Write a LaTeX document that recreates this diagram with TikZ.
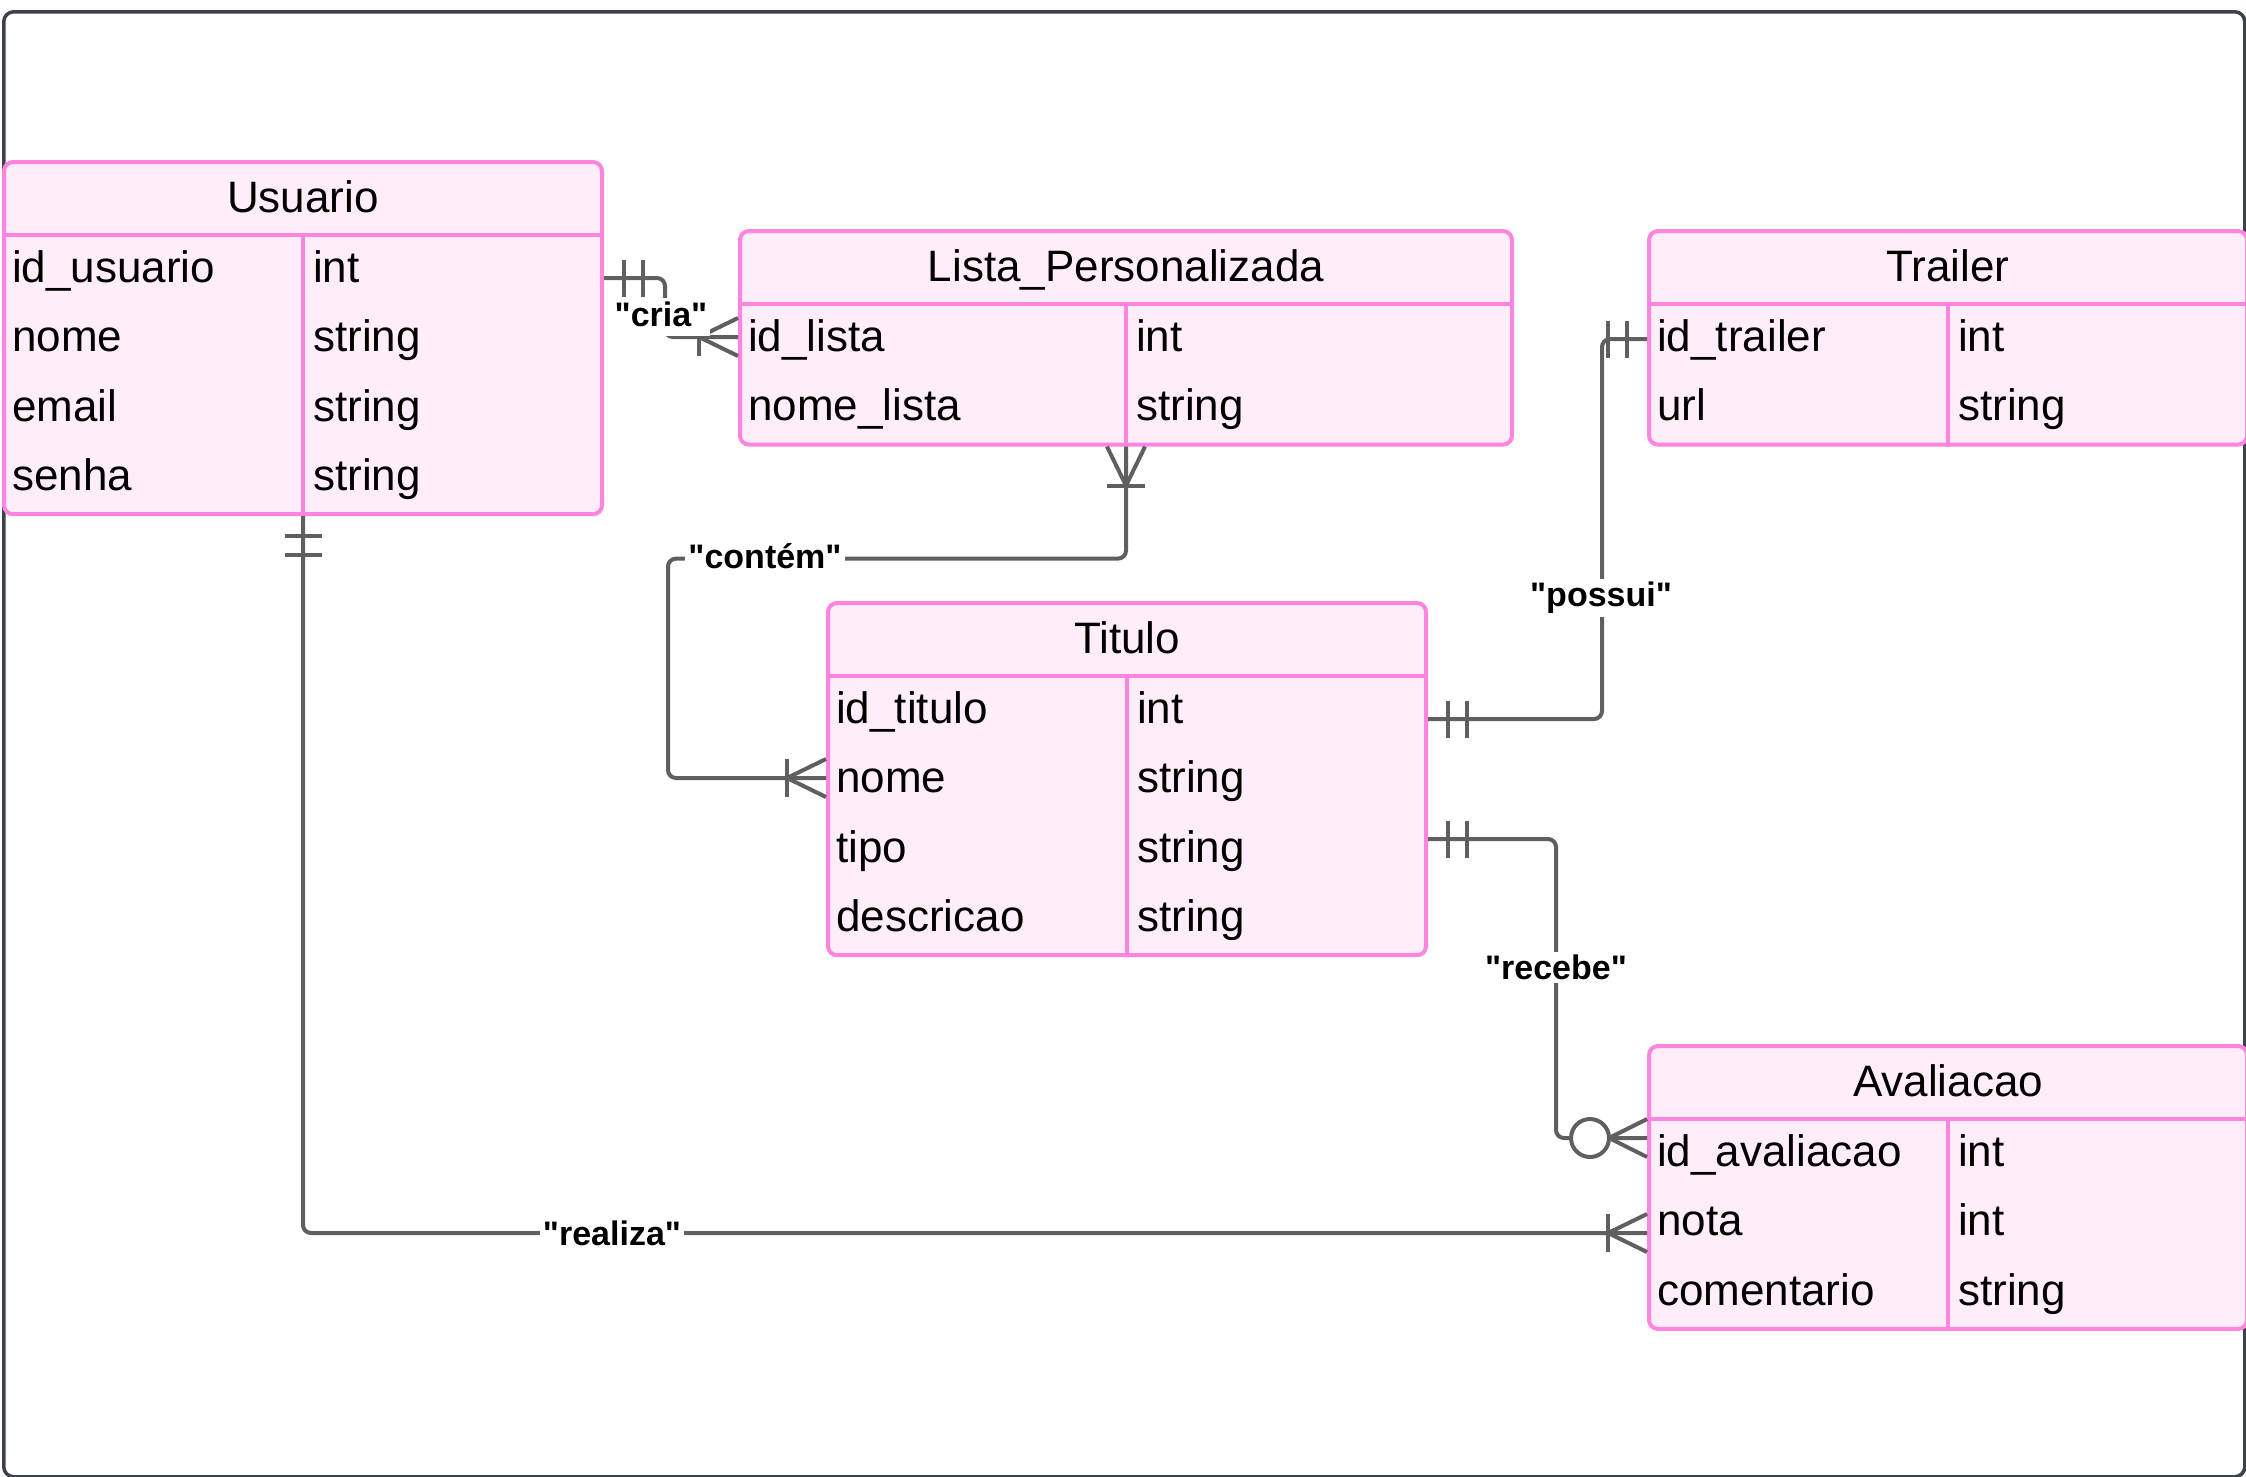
\documentclass[tikz,border=0pt]{standalone}
\usepackage{fontspec}
\setmainfont{Liberation Sans}[Ligatures=TeXOff]
\usetikzlibrary{calc}
\definecolor{tblPink}{HTML}{FF84E0}
\definecolor{tblFill}{HTML}{FFEEF9}
\definecolor{connGray}{HTML}{5F5F5F}
\definecolor{frameGray}{HTML}{3C4249}

% #1 name, #2 x, #3 y (top-left, px), #4 width, #5 rows, #6 title, #7 rows list
\newcommand\ertable[7]{%
  \node[tbl, anchor=north west, minimum width=#4pt, minimum height={75pt+#5*69.3pt}] (#1) at (#2,#3) {};
  \draw[tblline] ($(#1.north west)+(0,75)$) -- ($(#1.north east)+(0,75)$);
  \draw[tblline] ($(#1.north)+(0,75)$) -- (#1.south);
  \node[celltext, anchor=base] (#1-title) at ($(#1.north)+(0,52)$) {#6};
  \foreach \a/\b [count=\i] in {#7} {
    \node[celltext, anchor=base west] (#1-n\i) at ($(#1.north west)+(10,{75+69.3*(\i-0.5)+13})$) {\a};
    \node[celltext, anchor=base west] (#1-t\i) at ($(#1.north)+(10,{75+69.3*(\i-0.5)+13})$) {\b};
  }
}
% one-and-only-one bars; #1 point on entity edge, #2 direction away from entity
\newcommand\onebars[2]{%
  \draw[conn] ($(#1)+(#2:20)+(#2+90:18.5)$) -- ($(#1)+(#2:20)+(#2-90:18.5)$);
  \draw[conn] ($(#1)+(#2:39)+(#2+90:18.5)$) -- ($(#1)+(#2:39)+(#2-90:18.5)$);
}
% one-or-many crow's foot
\newcommand\crowfoot[2]{%
  \draw[conn] ($(#1)+(#2+90:19)$) -- ($(#1)+(#2:39)$) -- ($(#1)+(#2-90:19)$);
  \draw[conn] ($(#1)+(#2:39)+(#2+90:19)$) -- ($(#1)+(#2:39)+(#2-90:19)$);
}
% zero-or-many
\newcommand\zeromany[2]{%
  \draw[conn] ($(#1)+(#2+90:19)$) -- ($(#1)+(#2:38)$) -- ($(#1)+(#2-90:19)$);
  \draw[conn, fill=white] ($(#1)+(#2:57)$) circle[radius=19];
}

\begin{document}
\begin{tikzpicture}[x=1pt,y=-1pt,
  tbl/.style={draw=tblPink, fill=tblFill, line width=4pt, rounded corners=9pt, inner sep=0pt},
  tblline/.style={draw=tblPink, line width=4pt},
  celltext/.style={font=\fontsize{44pt}{52pt}\selectfont, inner sep=0pt, text=black},
  conn/.style={draw=connGray, line width=4pt},
  route/.style={conn, rounded corners=8pt},
  lbl/.style={font=\bfseries\fontsize{34pt}{40pt}\selectfont, fill=white, inner sep=3pt},
  framebox/.style={draw=frameGray, line width=3.5pt, rounded corners=10pt, inner sep=0pt}]
\useasboundingbox (0,0) rectangle (2246,1476);
\node[framebox, anchor=north west, minimum width=2241pt, minimum height=1465pt] (frame) at (2,10) {};

\ertable{usuario}{2}{160}{598}{4}{Usuario}{id\_usuario/int, nome/string, email/string, senha/string}
\ertable{lista}{738}{229}{772}{2}{Lista\_Personalizada}{id\_lista/int, nome\_lista/string}
\ertable{trailer}{1647}{229}{598}{2}{Trailer}{id\_trailer/int, url/string}
\ertable{titulo}{826}{601}{598}{4}{Titulo}{id\_titulo/int, nome/string, tipo/string, descricao/string}
\ertable{aval}{1647}{1044}{598}{3}{Avaliacao}{id\_avaliacao/int, nota/int, comentario/string}

% cria
\coordinate (cria-a) at ($(usuario.north east)+(0,118)$);
\coordinate (cria-b) at ($(lista.north west)+(0,108)$);
\draw[route] (cria-a) -- ++(61,0) |- (cria-b);
\onebars{cria-a}{0}
\crowfoot{cria-b}{180}

% contem
\coordinate (cont-a) at (lista.south);
\coordinate (cont-b) at ($(titulo.north west)+(0,177)$);
\draw[route] (cont-a) -- ++(0,112) -| ($(cont-b)+(-158,0)$) -- (cont-b);
\crowfoot{cont-a}{90}
\crowfoot{cont-b}{180}

% possui
\coordinate (pos-a) at ($(titulo.north east)+(0,118)$);
\coordinate (pos-b) at ($(trailer.north west)+(0,110)$);
\draw[route] (pos-a) -| ($(pos-b)+(-45,0)$) -- (pos-b);
\onebars{pos-a}{0}
\onebars{pos-b}{180}

% recebe
\coordinate (rec-a) at ($(titulo.north east)+(0,238)$);
\coordinate (rec-b) at ($(aval.north west)+(0,94)$);
\draw[route] (rec-a) -| ($(rec-b)+(-91,0)$) -- (rec-b);
\onebars{rec-a}{0}
\zeromany{rec-b}{180}

% realiza
\coordinate (real-a) at (usuario.south);
\coordinate (real-b) at ($(aval.north west)+(0,189)$);
\draw[route] (real-a) |- (real-b);
\onebars{real-a}{90}
\crowfoot{real-b}{180}

% labels
\node[lbl, anchor=base, text depth=7pt] (l-cria) at (661,326) {"cria"};
\node[lbl] (l-cont) at (765,556) {"contém"};
\node[lbl] (l-pos) at (1601,598) {"possui"};
\node[lbl] (l-rec) at (1556,967) {"recebe"};
\node[lbl] (l-real) at (612,1233) {"realiza"};
\end{tikzpicture}
\end{document}
